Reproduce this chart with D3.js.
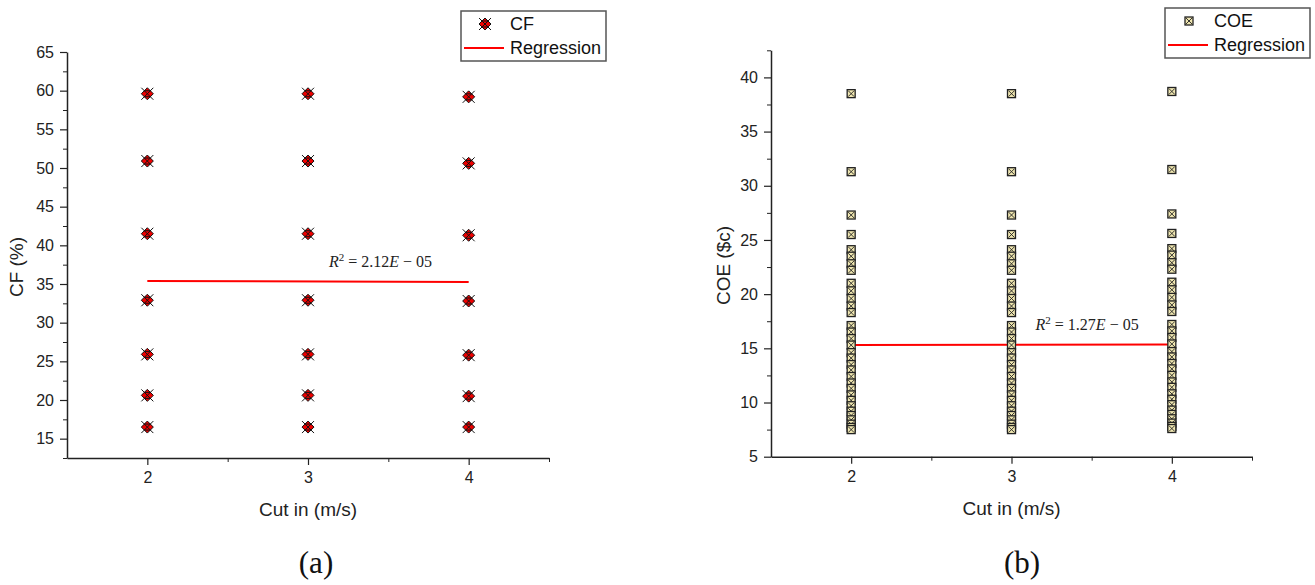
<!DOCTYPE html>
<html>
<head>
<meta charset="utf-8">
<script src="https://cdn.jsdelivr.net/npm/d3@7"></script>
<style>
  body { margin: 0; background: #fff; }
  svg { display: block; }
  .axis path, .axis line { stroke: #222; }
  .axis text { font-family: "Liberation Sans", Arial, sans-serif; font-size: 16px; fill: #222; }
  .title { font-family: "Liberation Sans", Arial, sans-serif; font-size: 19px; fill: #222; }
  .legend text { font-family: "Liberation Sans", Arial, sans-serif; font-size: 18px; fill: #111; }
  .r2 { font-family: "Liberation Serif", "Times New Roman", serif; font-size: 16px; fill: #222; }
  .caption { font-family: "Liberation Serif", "Times New Roman", serif; font-size: 31px; fill: #111; }
</style>
</head>
<body>
<svg id="viz" width="1315" height="585"></svg>
<script>
// cut in speeds (m/s)
var cutIn = [2, 3, 4];

// panel (a): capacity factor (%)
var cfAt2 = [59.6, 50.9, 41.5, 32.9, 25.9, 20.6, 16.5];
var cfAt3 = [59.6, 50.9, 41.5, 32.9, 25.9, 20.6, 16.5];
var cfAt4 = [59.2, 50.6, 41.3, 32.8, 25.8, 20.5, 16.5];
var cfRegression = [35.4, 35.25]; // at x = 2 and 4
var cfTicks = [15, 20, 25, 30, 35, 40, 45, 50, 55, 60, 65];

// panel (b): cost of energy ($c)
var coeAt2 = [38.5, 31.3, 27.3, 25.5, 24.1, 23.5, 22.8, 22.2, 21.0, 20.3, 19.6, 18.9, 18.3,
  17.1, 16.5, 15.9, 15.3, 14.6, 14.1, 13.5, 13.0, 12.4, 11.8, 11.3, 10.7, 10.2, 9.7, 9.2,
  8.8, 8.4, 8.0, 7.7, 7.5];
var coeAt3 = [38.5, 31.3, 27.3, 25.5, 24.1, 23.5, 22.8, 22.2, 21.0, 20.3, 19.6, 18.9, 18.3,
  17.1, 16.5, 15.9, 15.3, 14.6, 14.1, 13.5, 13.0, 12.4, 11.8, 11.3, 10.7, 10.2, 9.7, 9.2,
  8.8, 8.4, 8.0, 7.7, 7.5];
var coeAt4 = [38.7, 31.5, 27.4, 25.6, 24.2, 23.6, 22.9, 22.3, 21.1, 20.4, 19.7, 19.0, 18.4,
  17.2, 16.6, 16.0, 15.4, 14.7, 14.2, 13.6, 13.1, 12.5, 11.9, 11.4, 10.8, 10.3, 9.8, 9.3,
  8.9, 8.5, 8.1, 7.8, 7.6];
var coeRegression = [15.3, 15.35];
var coeTicks = [5, 10, 15, 20, 25, 30, 35, 40];

var xTicks = [2, 3, 4];
var xMinor = [2.5, 3.5, 4.5];

var svg = d3.select("#viz");

function toPoints(cols) {
  var pts = [];
  cols.forEach(function(col, i) {
    col.forEach(function(v) { pts.push({ x: cutIn[i], y: v }); });
  });
  return pts;
}

function drawPanel(p) {
  var x = d3.scaleLinear().domain([1.5, 4.5]).range([p.left, p.right]);
  var y = d3.scaleLinear().domain(p.yDomain).range([p.bottom, p.top]);
  var g = svg.append("g");

  // minor ticks first
  var minorY = [];
  for (var i = 0; i < p.yTicks.length - 1; i++) minorY.push((p.yTicks[i] + p.yTicks[i + 1]) / 2);
  if (p.yDomain[0] < p.yTicks[0] - 2) minorY.push(p.yTicks[0] - 2.5);
  if (p.yDomain[1] > p.yTicks[p.yTicks.length - 1] + 2) minorY.push(p.yTicks[p.yTicks.length - 1] + 2.5);

  g.append("g").attr("class", "axis")
    .attr("transform", "translate(" + p.left + ",0)")
    .call(d3.axisLeft(y).tickValues(minorY).tickSize(4).tickFormat(""))
    .select(".domain").remove();
  g.append("g").attr("class", "axis")
    .attr("transform", "translate(0," + p.bottom + ")")
    .call(d3.axisBottom(x).tickValues(xMinor).tickSize(4).tickFormat(""))
    .select(".domain").remove();

  var ya = g.append("g").attr("class", "axis")
    .attr("transform", "translate(" + p.left + ",0)")
    .call(d3.axisLeft(y).tickValues(p.yTicks).tickSize(7).tickPadding(6).tickSizeOuter(0));
  var xa = g.append("g").attr("class", "axis")
    .attr("transform", "translate(0," + p.bottom + ")")
    .call(d3.axisBottom(x).tickValues(xTicks).tickFormat(d3.format("d"))
      .tickSize(7).tickPadding(7).tickSizeOuter(0));
  ya.select(".domain").attr("stroke-width", 1.5);
  xa.select(".domain").attr("stroke-width", 1.5);
  ya.selectAll(".tick line").attr("stroke-width", 1.2);
  xa.selectAll(".tick line").attr("stroke-width", 1.2);

  // axis titles
  g.append("text").attr("class", "title")
    .attr("x", (p.left + p.right) / 2 + p.xTitleShift)
    .attr("y", p.bottom + 58)
    .attr("text-anchor", "middle")
    .text("Cut in (m/s)");
  g.append("text").attr("class", "title")
    .attr("transform", "translate(" + (p.left - p.yTitleGap) + "," + ((p.top + p.bottom) / 2 + 12) + ") rotate(-90)")
    .attr("text-anchor", "middle")
    .text(p.yTitle);

  // regression line
  g.append("line")
    .attr("x1", x(2)).attr("y1", y(p.regression[0]))
    .attr("x2", x(4)).attr("y2", y(p.regression[1]))
    .attr("stroke", "#f00").attr("stroke-width", 2);

  // points
  var pts = g.append("g").selectAll("g")
    .data(toPoints(p.columns))
    .enter()
    .append("g")
    .attr("transform", function(d) { return "translate(" + x(d.x) + "," + y(d.y) + ")"; });
  p.marker(pts);

  // R^2 label
  var t = g.append("text").attr("class", "r2")
    .attr("x", x(p.r2x)).attr("y", y(p.r2y));
  t.append("tspan").attr("font-style", "italic").text("R");
  t.append("tspan").attr("dy", -6).attr("font-size", "11px").text("2");
  t.append("tspan").attr("dy", 6).text(" = " + p.r2);
  t.append("tspan").attr("font-style", "italic").text("E");
  t.append("tspan").text(" \u2212 05");

  // legend
  var lg = g.append("g").attr("class", "legend");
  lg.append("rect")
    .attr("x", p.legend.x).attr("y", p.legend.y)
    .attr("width", p.legend.w).attr("height", 50)
    .attr("fill", "#fff").attr("stroke", "#555").attr("stroke-width", 1.5);
  var m = lg.append("g").attr("transform", "translate(" + (p.legend.x + 24) + "," + (p.legend.y + 13) + ")");
  p.marker(m);
  lg.append("text").attr("x", p.legend.x + 49).attr("y", p.legend.y + 19).text(p.name);
  lg.append("line")
    .attr("x1", p.legend.x + 3).attr("x2", p.legend.x + 43)
    .attr("y1", p.legend.y + 37).attr("y2", p.legend.y + 37)
    .attr("stroke", "#f00").attr("stroke-width", 2);
  lg.append("text").attr("x", p.legend.x + 49).attr("y", p.legend.y + 43).text("Regression");

  // caption
  svg.append("text").attr("class", "caption")
    .attr("x", p.captionX).attr("y", 573)
    .attr("text-anchor", "middle")
    .text(p.caption);
}

function cfMarker(sel) {
  sel.append("path")
    .attr("d", "M0,-6L6,0L0,6L-6,0Z")
    .attr("fill", "#e00").attr("stroke", "#111").attr("stroke-width", 1);
  sel.append("path")
    .attr("d", "M-6,-6L6,6M6,-6L-6,6M-3,-3L3,-3M-3,3L3,3")
    .attr("stroke", "#111").attr("stroke-width", 1).attr("fill", "none");
}

function coeMarker(sel) {
  sel.append("rect")
    .attr("x", -4).attr("y", -4).attr("width", 8).attr("height", 8)
    .attr("fill", "#efe6b0").attr("stroke", "#222").attr("stroke-width", 1.3);
  sel.append("path")
    .attr("d", "M-3,-3L3,3M3,-3L-3,3")
    .attr("stroke", "#222").attr("stroke-width", 0.9).attr("fill", "none");
}

drawPanel({
  left: 67, right: 549, top: 52, bottom: 458,
  yDomain: [12.5, 65], yTicks: cfTicks,
  columns: [cfAt2, cfAt3, cfAt4], regression: cfRegression,
  marker: cfMarker, name: "CF", yTitle: "CF (%)", yTitleGap: 44, xTitleShift: 0,
  r2: "2.12", r2x: 3.13, r2y: 37.2,
  legend: { x: 461, y: 11, w: 145 },
  caption: "(a)", captionX: 316
});

drawPanel({
  left: 771, right: 1252, top: 50.3, bottom: 456.7,
  yDomain: [5, 42.5], yTicks: coeTicks,
  columns: [coeAt2, coeAt3, coeAt4], regression: coeRegression,
  marker: coeMarker, name: "COE", yTitle: "COE ($c)", yTitleGap: 41, xTitleShift: 0,
  r2: "1.27", r2x: 3.15, r2y: 16.7,
  legend: { x: 1165, y: 8, w: 145 },
  caption: "(b)", captionX: 1022
});
</script>
</body>
</html>
